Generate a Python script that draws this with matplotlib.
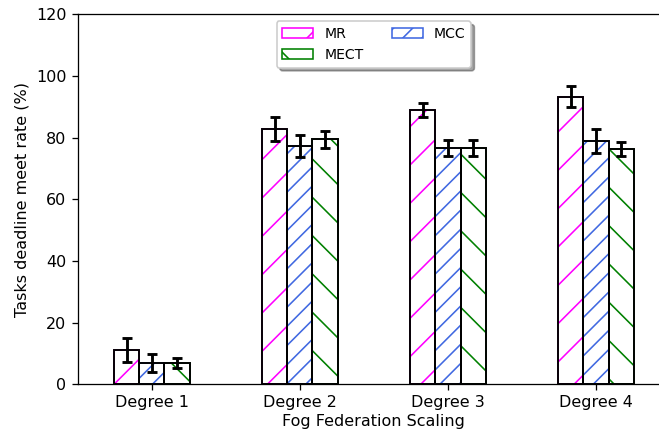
import numpy as np
import matplotlib
matplotlib.use("Agg")
import matplotlib.pyplot as plt

plt.rcParams["hatch.linewidth"] = 1.0

degrees = ["Degree 1", "Degree 2", "Degree 3", "Degree 4"]
series = ["MR", "MCC", "MECT"]

mr = [11.1, 82.8, 89.0, 93.3]
mcc = [6.8, 77.3, 76.6, 78.9]
mect = [6.8, 79.5, 76.6, 76.2]

mr_err = [3.9, 3.9, 2.4, 3.3]
mcc_err = [2.9, 3.7, 2.7, 3.9]
mect_err = [1.6, 2.7, 2.7, 2.3]

colors = ["#ff00ff", "#4169e1", "#008000"]
hatches = ["/", "//", "\\"]

DPI = 115
fig = plt.figure(figsize=(659 / DPI, 434 / DPI), dpi=DPI)
ax = fig.add_axes([0.1179, 0.1145, 0.899, 0.8525])

x = np.arange(len(degrees))
width = 0.17
values = [mr, mcc, mect]
errors = [mr_err, mcc_err, mect_err]

handles = []
for i, (name, vals, errs) in enumerate(zip(series, values, errors)):
    pos = x + (i - 1) * width
    h = ax.bar(pos, vals, width, color="white", edgecolor=colors[i],
               hatch=hatches[i], linewidth=1.0, label=name, zorder=2)
    ax.bar(pos, vals, width, fill=False, edgecolor="black", linewidth=1.2, zorder=3)
    ax.errorbar(pos, vals, yerr=errs, fmt="none", ecolor="black",
                elinewidth=1.8, capsize=3, capthick=1.8, zorder=4)
    handles.append(h)

ax.set_xlim(-0.5, 3.5)
ax.set_ylim(0, 120)
ax.set_xticks(x)
ax.set_xticklabels(degrees)
ax.set_xlabel("Fog Federation Scaling", labelpad=2)
ax.set_ylabel("Tasks deadline meet rate (%)")

ax.legend([handles[0], handles[2], handles[1]], ["MR", "MECT", "MCC"],
          loc="upper center", ncol=2, shadow=True, fontsize=8.8,
          handlelength=2.2)

fig.savefig("out.png", dpi=DPI)
